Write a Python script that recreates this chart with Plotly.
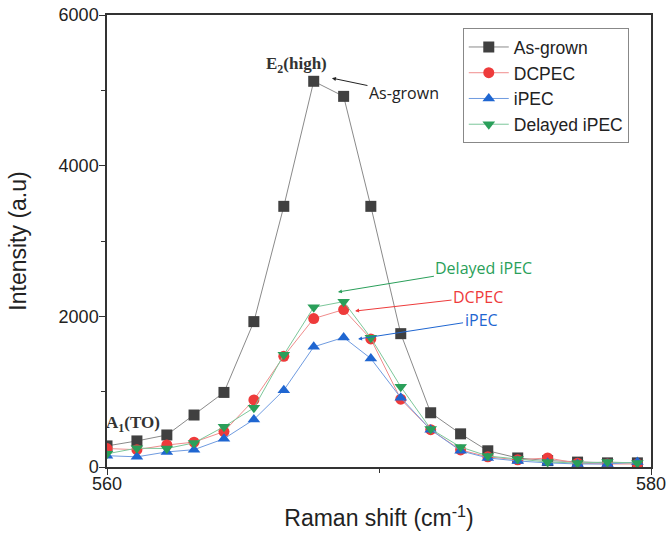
import plotly.graph_objects as go

raman_shift = [560.0, 561.1, 562.2, 563.2, 564.3, 565.4, 566.5, 567.6, 568.7, 569.7,
               570.8, 571.9, 573.0, 574.0, 575.1, 576.2, 577.3, 578.4, 579.5]
as_grown = [280, 346, 425, 690, 990, 1930, 3460, 5120, 4920, 3460,
            1770, 720, 440, 215, 120, 85, 65, 55, 55]
dcpec = [245, 230, 292, 330, 470, 890, 1470, 1970, 2090, 1700,
         900, 495, 226, 135, 95, 120, 50, 40, 40]
ipec = [150, 135, 200, 230, 375, 630, 1020, 1595, 1720, 1440,
        920, 495, 215, 120, 80, 55, 40, 40, 66]
delayed_ipec = [175, 250, 245, 320, 535, 785, 1490, 2120, 2195, 1715,
                1065, 505, 265, 146, 106, 66, 53, 66, 53]

series = [
    ("As-grown", as_grown, "#404040", "#8a8a8a", "square"),
    ("DCPEC", dcpec, "#ee3b3b", "#f08c8c", "circle"),
    ("iPEC", ipec, "#1f66d1", "#6f9be0", "triangle-up"),
    ("Delayed iPEC", delayed_ipec, "#2a9f5a", "#7cc79a", "triangle-down"),
]

fig = go.Figure()
for name, vals, mcol, lcol, sym in series:
    fig.add_trace(go.Scatter(
        x=raman_shift, y=vals, name=name, mode="lines+markers",
        line=dict(color=lcol, width=1),
        marker=dict(color=mcol, symbol=sym, size=11, line=dict(width=0)),
    ))

serif = "Liberation Serif, Times New Roman, serif"
ann = []
ann.append(dict(x=566.98, y=5330, xref="x", yref="y", showarrow=False,
                text="<b>E<sub>2</sub>(high)</b>",
                font=dict(family=serif, size=17, color="#333333")))
ann.append(dict(x=560.95, y=570, xref="x", yref="y", showarrow=False,
                text="<b>A<sub>1</sub>(TO)</b>",
                font=dict(family=serif, size=17, color="#333333")))

arrows = [
    ("As-grown", 568.27, 5162, 72, 15, "#222222"),
    ("Delayed iPEC", 568.49, 2323, 146, -24, "#2a9f5a"),
    ("DCPEC", 569.12, 2070, 123, -14, "#ee3b3b"),
    ("iPEC", 569.23, 1699, 123, -19, "#1f66d1"),
]
for txt, x, y, ax, ay, col in arrows:
    ann.append(dict(x=x, y=y, xref="x", yref="y", ax=ax, ay=ay, axref="pixel", ayref="pixel",
                    text=txt, showarrow=True, arrowhead=2, arrowsize=0.8, arrowwidth=1,
                    arrowcolor=col,
                    font=dict(family="Open Sans, Arial, sans-serif", size=16, color=col)))

fig.update_layout(
    width=668, height=534,
    margin=dict(l=107, r=17, t=15, b=67),
    plot_bgcolor="white", paper_bgcolor="white",
    font=dict(family="Liberation Sans, Arial, sans-serif", size=18, color="#222222"),
    showlegend=True,
    legend=dict(x=0.654, y=0.971, xanchor="left", yanchor="top",
                bordercolor="#888888", borderwidth=1, bgcolor="white",
                font=dict(size=17.5), itemwidth=40, tracegroupgap=0),
    annotations=ann,
)
fig.update_xaxes(
    range=[560, 580], tickvals=[560, 580], ticks="outside", ticklen=6, tickcolor="#333",
    minor=dict(tickvals=[570], ticks="outside", ticklen=4, tickcolor="#333"),
    showgrid=False, zeroline=False, showline=True, linecolor="#333", linewidth=1.5, mirror=True,
    automargin=False, ticklabelstandoff=-6,
    title=dict(text="Raman shift (cm<sup>-1</sup>)", font=dict(size=23), standoff=17),
)
fig.update_yaxes(
    range=[0, 6000], tickvals=[0, 2000, 4000, 6000], ticks="outside", ticklen=6, tickcolor="#333",
    minor=dict(tickvals=[1000, 3000, 5000], ticks="outside", ticklen=4, tickcolor="#333"),
    showgrid=False, zeroline=False, showline=True, linecolor="#333", linewidth=1.5, mirror=True,
    automargin=False, ticklabelstandoff=-3,
    title=dict(text="Intensity (a.u)", font=dict(size=23), standoff=26),
)
fig.write_html("out.html")
